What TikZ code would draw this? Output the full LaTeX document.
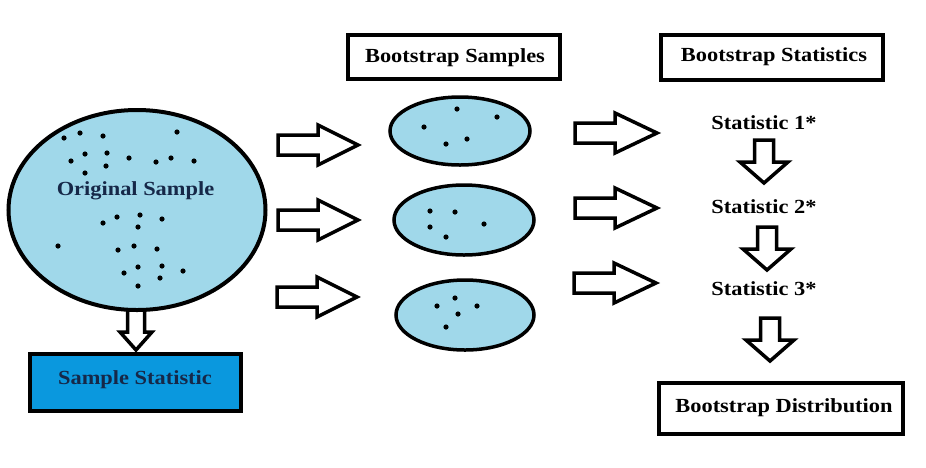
\documentclass[tikz,border=0pt]{standalone}
\usepackage{fontspec}
\newfontfamily\labfont{Liberation Serif}[FakeStretch=1.12]
\usetikzlibrary{shapes.geometric}
\definecolor{lightblue}{RGB}{160,216,234}
\definecolor{boxblue}{RGB}{10,152,222}
\definecolor{navy}{RGB}{22,40,72}
\begin{document}
\begin{tikzpicture}[x=1pt,y=-1pt,
  lab/.style={font=\labfont\bfseries\fontsize{20}{23}\selectfont, inner sep=0pt},
  blk/.style={draw=black, fill=white, line width=3.5pt, line join=miter},
  framebox/.style={draw=black, line width=4pt, inner sep=0pt},
  sampell/.style={ellipse, draw=black, fill=lightblue, line width=3.5pt, inner sep=0pt},
  dot/.style={fill=black},
  rarr/.pic={\draw[blk] (0,-10) -- (40,-10) -- (40,-20) -- (80,0) -- (40,20) -- (40,10) -- (0,10) -- cycle;},
  rarrb/.pic={\draw[blk] (0,-10) -- (40,-10) -- (40,-20) -- (82,0) -- (40,20) -- (40,10) -- (0,10) -- cycle;},
  darr/.pic={\draw[blk] (-9.5,0) -- (-9.5,22) -- (-24,22) -- (0,43) -- (24,22) -- (9.5,22) -- (9.5,0) -- cycle;}
]
\useasboundingbox (0,0) rectangle (926,467);

% original sample
\node[ellipse, draw=black, fill=lightblue, line width=4pt, inner sep=0pt,
      minimum width=257pt, minimum height=200pt] (orig) at (137,210) {};
\node[lab, text=navy] (origlab) at (135.5,191) {Original Sample};
\foreach \p in {(64,138),(80,133),(103,136),(177,132),(85,154),(107,153),(71,161),
  (106,166),(129,158),(156,162),(171,158),(194,161),(85,173),(117,217),(140,215),
  (162,219),(103,223),(138,227),(58,246),(118,250),(134,246),(157,249),(138,267),
  (162,266),(183,271),(124,273),(160,278),(138,286)}
  \fill[dot] \p circle (2.6pt);

% sample statistic
\node[framebox, fill=boxblue, minimum width=211pt, minimum height=57pt] (sstat) at (135.5,382.5) {};
\node[lab, text=navy] (sstatlab) at (135,380) {Sample Statistic};
\draw[line width=3.5pt, line join=miter] (127.5,308) -- (127.5,332) -- (120,332) -- (136,350)
  -- (152,332) -- (144.5,332) -- (144.5,308);

% bootstrap samples
\node[framebox, minimum width=212pt, minimum height=44pt] (bsbox) at (454,57) {};
\node[lab] (bslab) at (455,58) {Bootstrap Samples};
\node[sampell, minimum width=140pt, minimum height=68pt] (e1) at (460,131) {};
\node[sampell, minimum width=140pt, minimum height=70pt] (e2) at (464,220) {};
\node[sampell, minimum width=138pt, minimum height=70pt] (e3) at (465,315) {};
\foreach \p in {(457,109),(497,117),(424,127),(467,139),(446,144),
  (430,211),(455,212),(484,224),(430,227),(446,237),
  (455,298),(437,306),(477,306),(458,314),(446,327)}
  \fill[dot] \p circle (2.6pt);

% arrows to bootstrap samples
\pic at (278,145) {rarr};
\pic at (278,220) {rarr};
\pic at (277,297) {rarr};

% bootstrap statistics
\node[framebox, minimum width=222pt, minimum height=45pt] (bstbox) at (772,57.5) {};
\node[lab] (bstlab) at (774,57) {Bootstrap Statistics};
\node[lab] (s1) at (764,123) {Statistic 1*};
\node[lab] (s2) at (764,207) {Statistic 2*};
\node[lab] (s3) at (764,289) {Statistic 3*};

\pic at (575,133) {rarrb};
\pic at (575,208) {rarrb};
\pic at (574,283) {rarrb};

\pic at (764,140) {darr};
\pic at (767,227) {darr};
\pic at (770,318) {darr};

% bootstrap distribution
\node[framebox, minimum width=244pt, minimum height=51pt] (bdbox) at (781,408.5) {};
\node[lab] (bdlab) at (784,408) {Bootstrap Distribution};
\end{tikzpicture}
\end{document}
